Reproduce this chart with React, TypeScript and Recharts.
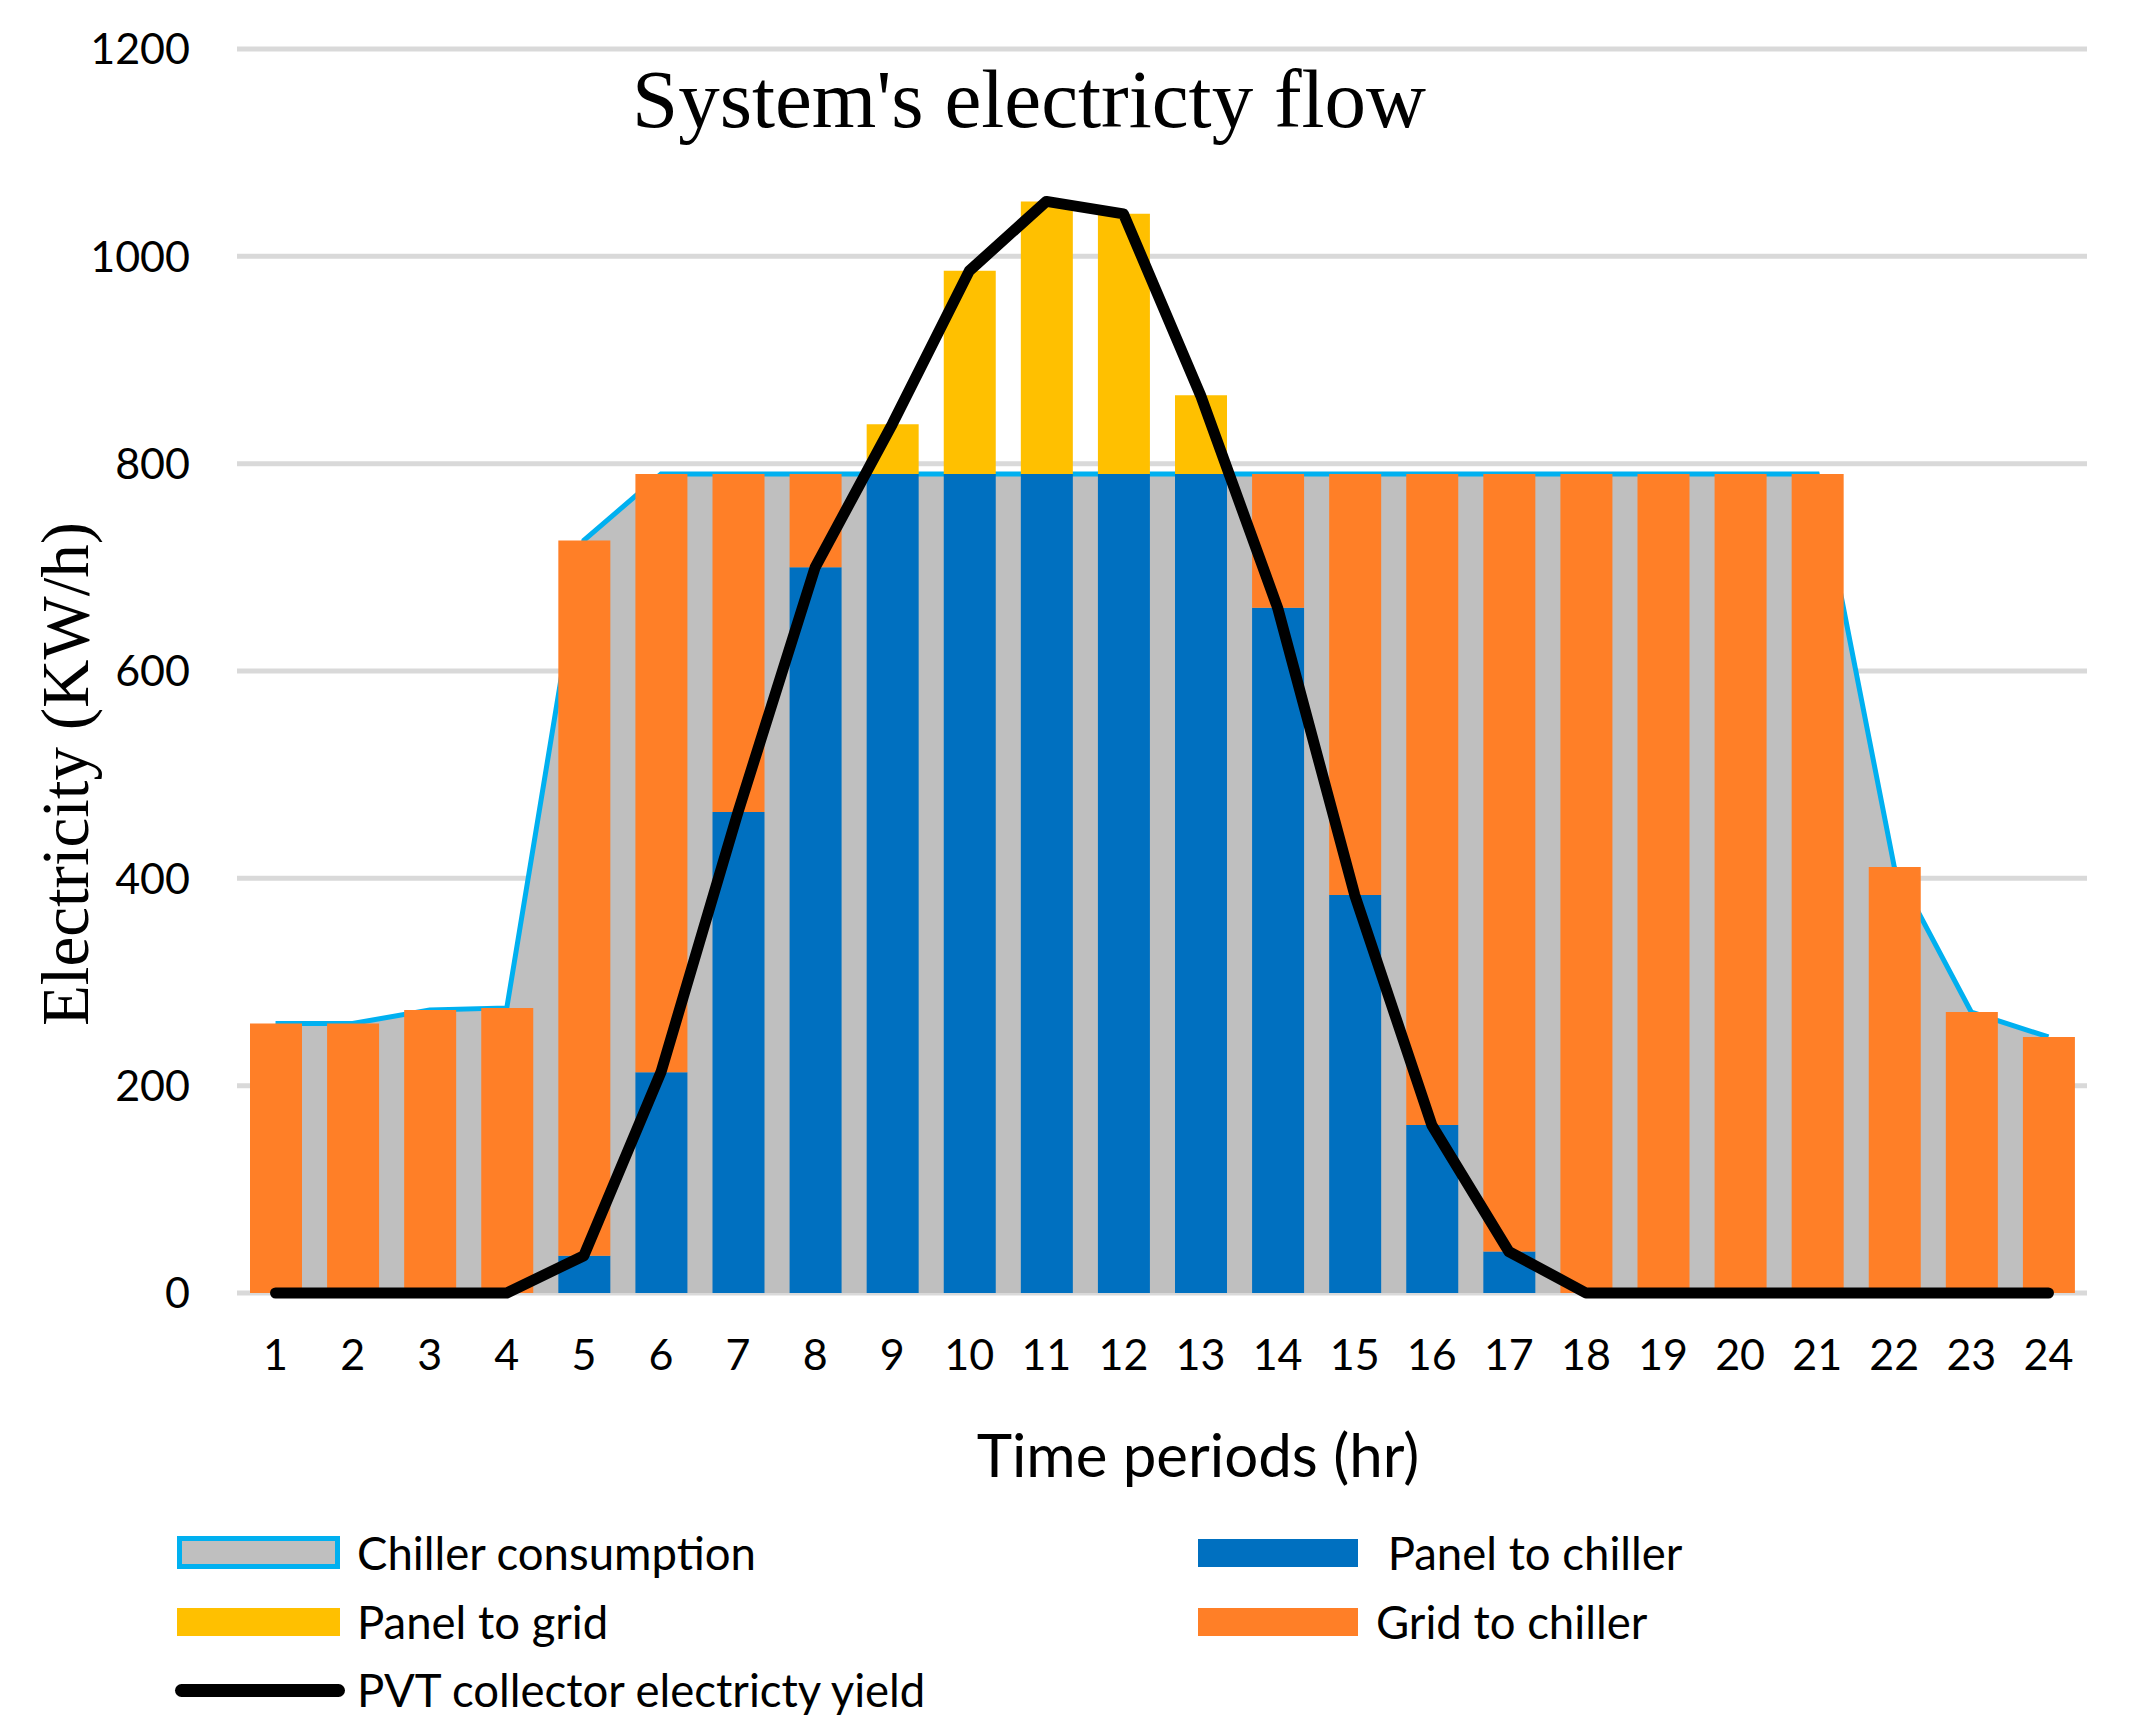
import React from "react";
import {
  ComposedChart,
  Area,
  Bar,
  Line,
  XAxis,
  YAxis,
  CartesianGrid,
} from "recharts";

const hours = [
  "1", "2", "3", "4", "5", "6", "7", "8", "9", "10", "11", "12",
  "13", "14", "15", "16", "17", "18", "19", "20", "21", "22", "23", "24",
];

const chillerConsumption = [
  260, 260, 273, 275, 726, 790, 790, 790, 790, 790, 790, 790,
  790, 790, 790, 790, 790, 790, 790, 790, 790, 411, 271, 247,
];
const panelToChiller = [
  0, 0, 0, 0, 36, 213, 464, 700, 790, 790, 790, 790,
  790, 661, 384, 162, 40, 0, 0, 0, 0, 0, 0, 0,
];
const gridToChiller = [
  260, 260, 273, 275, 690, 577, 326, 90, 0, 0, 0, 0,
  0, 129, 406, 628, 750, 790, 790, 790, 790, 411, 271, 247,
];
const panelToGrid = [
  0, 0, 0, 0, 0, 0, 0, 0, 48, 196, 263, 251,
  76, 0, 0, 0, 0, 0, 0, 0, 0, 0, 0, 0,
];
const pvtYield = [
  0, 0, 0, 0, 36, 213, 464, 700, 838, 986, 1053, 1041,
  866, 661, 384, 162, 40, 0, 0, 0, 0, 0, 0, 0,
];
const yTicks = [0, 200, 400, 600, 800, 1000, 1200];

const data = hours.map((h, i) => ({
  hour: h,
  consumption: chillerConsumption[i],
  panelChiller: panelToChiller[i],
  gridChiller: gridToChiller[i],
  panelGrid: panelToGrid[i],
  pvt: pvtYield[i],
}));

const SANS = "Lato, 'Noto Sans', sans-serif";
const SERIF = "'Liberation Serif', 'Times New Roman', serif";

const legendText: React.CSSProperties = {
  position: "absolute",
  fontFamily: SANS,
  fontSize: 45.5,
  lineHeight: "46px",
  color: "#000",
  whiteSpace: "pre",
};

function LegendBox({ left, top, w, h, style }: any) {
  return (
    <div
      style={{ position: "absolute", left, top, width: w, height: h, boxSizing: "border-box", ...style }}
    />
  );
}

export default function App() {
  return (
    <div style={{ position: "absolute", left: 0, top: 0, width: 2130, height: 1733, background: "#fff" }}>
      <ComposedChart
        width={2130}
        height={1733}
        data={data}
        margin={{ top: 49, right: 43, left: 137, bottom: 340 }}
      >
        <CartesianGrid vertical={false} stroke="#D9D9D9" strokeWidth={5} />
        <XAxis
          dataKey="hour"
          height={100}
          axisLine={false}
          tickLine={false}
          tickSize={0}
          tickMargin={46}
          interval={0}
          tick={{ fontFamily: SANS, fontSize: 43, fill: "#000" }}
        />
        <YAxis
          width={100}
          domain={[0, 1200]}
          ticks={yTicks}
          axisLine={false}
          tickLine={false}
          tickSize={0}
          tickMargin={47}
          tick={{ fontFamily: SANS, fontSize: 43, fill: "#000" }}
        />
        <Area
          type="linear"
          dataKey="consumption"
          name="Chiller consumption"
          stroke="#00B0F0"
          strokeWidth={5}
          fill="#BFBFBF"
          fillOpacity={1}
          isAnimationActive={false}
        />
        <Bar dataKey="panelChiller" name=" Panel to chiller" stackId="s" fill="#0070C0" barSize={52} isAnimationActive={false} />
        <Bar dataKey="gridChiller" name="Grid to chiller" stackId="s" fill="#FF7F27" barSize={52} isAnimationActive={false} />
        <Bar dataKey="panelGrid" name="Panel to grid" stackId="s" fill="#FFC000" barSize={52} isAnimationActive={false} />
        <Line
          type="linear"
          dataKey="pvt"
          name="PVT collector electricty yield"
          stroke="#000"
          strokeWidth={11}
          strokeLinecap="round"
          strokeLinejoin="round"
          dot={false}
          isAnimationActive={false}
        />
      </ComposedChart>

      <svg
        width={2130}
        height={1733}
        style={{ position: "absolute", left: 0, top: 0, pointerEvents: "none" }}
      >
        <text x={1029} y={127} textAnchor="middle" fontFamily={SERIF} fontSize={83} fill="#000">
          System's electricty flow
        </text>
        <text
          x={88}
          y={774}
          transform="rotate(-90, 88, 774)"
          textAnchor="middle"
          fontFamily={SERIF}
          fontSize={67}
          fill="#000"
        >
          Electricity (KW/h)
        </text>
        <text x={1198} y={1477} textAnchor="middle" fontFamily={SANS} fontSize={60} fill="#000">
          Time periods (hr)
        </text>
      </svg>

      <LegendBox left={177} top={1536} w={163} h={33} style={{ background: "#BFBFBF", border: "5px solid #00B0F0" }} />
      <div style={{ ...legendText, left: 357, top: 1530 }}>Chiller consumption</div>

      <LegendBox left={1198} top={1539} w={160} h={28} style={{ background: "#0070C0" }} />
      <div style={{ ...legendText, left: 1376, top: 1530 }}> Panel to chiller</div>

      <LegendBox left={177} top={1608} w={163} h={28} style={{ background: "#FFC000" }} />
      <div style={{ ...legendText, left: 357, top: 1599 }}>Panel to grid</div>

      <LegendBox left={1198} top={1608} w={160} h={28} style={{ background: "#FF7F27" }} />
      <div style={{ ...legendText, left: 1376, top: 1599 }}>Grid to chiller</div>

      <LegendBox left={175} top={1684} w={170} h={13} style={{ background: "#000", borderRadius: 7 }} />
      <div style={{ ...legendText, left: 357, top: 1667 }}>PVT collector electricty yield</div>
    </div>
  );
}
